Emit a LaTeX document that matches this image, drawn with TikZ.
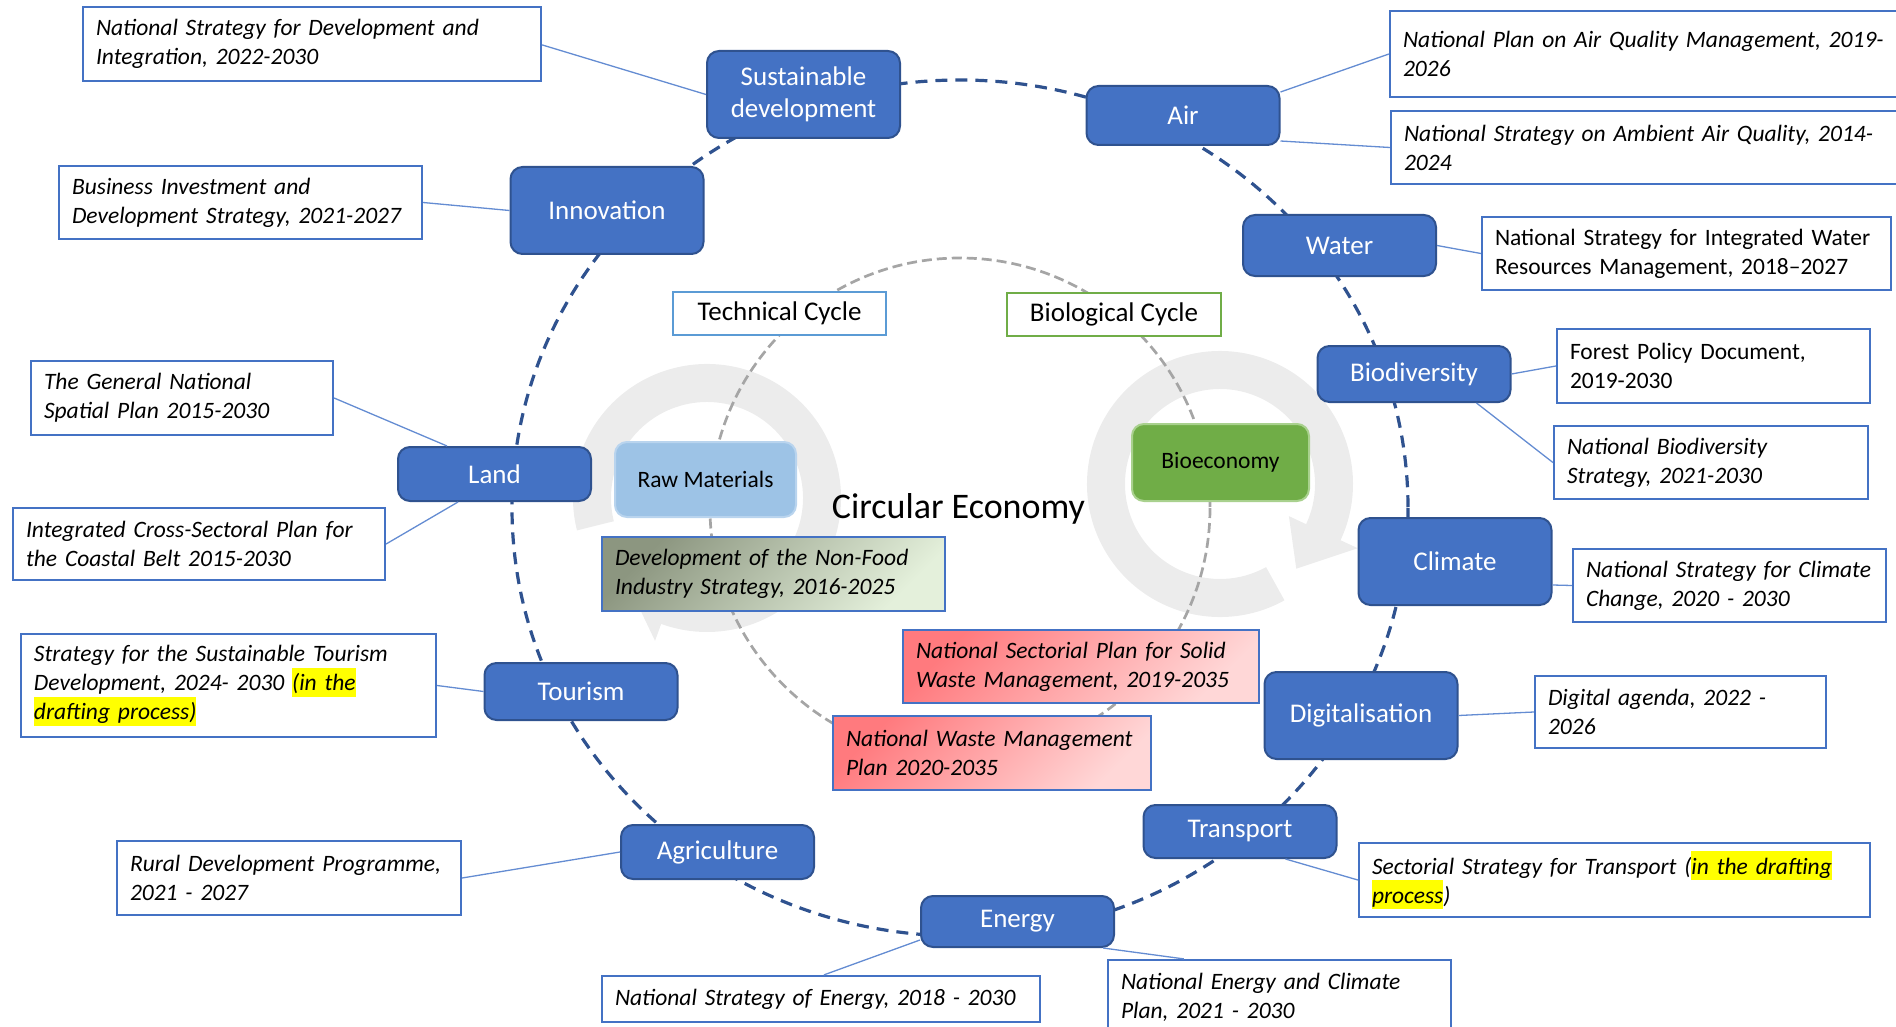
\documentclass[tikz,border=0pt]{standalone}
\usepackage{fontspec}
\setmainfont{Carlito}
\usetikzlibrary{calc}
\definecolor{bfill}{RGB}{68,114,196}
\definecolor{bdark}{RGB}{47,82,143}
\definecolor{connc}{RGB}{100,140,210}
\definecolor{ringc}{RGB}{236,236,236}
\definecolor{gdashc}{RGB}{165,165,165}
\definecolor{tcblue}{RGB}{91,155,213}
\definecolor{bgreen}{RGB}{112,173,71}
\definecolor{lgreen}{RGB}{169,209,142}
\definecolor{rawfill}{RGB}{157,195,230}
\definecolor{rawedge}{RGB}{185,212,238}
\definecolor{devA}{RGB}{140,150,128}
\definecolor{devB}{RGB}{228,240,219}
\definecolor{redA}{RGB}{255,122,126}
\definecolor{redB}{RGB}{255,215,215}
\definecolor{hly}{RGB}{255,255,0}
\newcommand\hlite[1]{{\setlength{\fboxsep}{0pt}\colorbox{hly}{\rule[-6pt]{0pt}{29pt}#1}}}
\begin{document}
\begin{tikzpicture}[x=1pt,y=-1pt,
  bluebox/.style={draw=bdark, fill=bfill, line width=2pt, rounded corners=12pt,
    minimum width=193pt, text=white, font=\fontsize{27}{32}\selectfont,
    align=center, inner sep=0pt},
  docbox/.style={draw=bfill, fill=white, line width=2.2pt,
    font=\fontsize{23.5}{29}\selectfont\itshape, align=left,
    inner xsep=13pt, inner ysep=0pt,
    execute at begin node={\hyphenpenalty=10000\exhyphenpenalty=10000}},
  docup/.style={docbox, font=\fontsize{23.5}{29}\selectfont},
  conn/.style={draw=connc, line width=1.3pt},
  cyclebox/.style={fill=white, line width=2pt, minimum width=213pt,
    minimum height=43pt, inner sep=0pt, font=\fontsize{27}{32}\selectfont},
  ringarrow/.style={fill=ringc},
  gdash/.style={draw=gdashc, line width=2.7pt, dash pattern=on 10pt off 5pt},
  bdash/.style={draw=bdark, line width=3.2pt, dash pattern=on 12pt off 8pt}]
\useasboundingbox (0,0) rectangle (1896,1027);
\clip (0,0) rectangle (1896,1027);

% grey circular arrows
\fill[ringarrow] ($(707,498)+(-194:134)$) arc[start angle=-194, end angle=110, radius=134]
  -- ($(707,498)+(110:152)$) -- ($(707,498)+(135:115)$) -- ($(707,498)+(110:78)$)
  -- ($(707,498)+(110:96)$) arc[start angle=110, end angle=-194, radius=96] -- cycle;
\fill[ringarrow] ($(1220,484)+(61:133)$) arc[start angle=61, end angle=385, radius=133]
  -- ($(1220,484)+(385:152)$) -- ($(1220,484)+(408:114)$) -- ($(1220,484)+(385:76)$)
  -- ($(1220,484)+(385:95)$) arc[start angle=385, end angle=61, radius=95] -- cycle;

% cycles
\draw[gdash] (960,508) circle[radius=250];
\draw[bdash] (960,508) ellipse[x radius=448, y radius=428];

% blue theme nodes
\node[bluebox, minimum height=87pt] (sd) at (803.5,94.5) {Sustainable\\development};
\node[bluebox, minimum height=59pt] (air) at (1183,115.5) {Air};
\node[bluebox, minimum height=87pt] (innov) at (607,210.5) {Innovation};
\node[bluebox, minimum height=61pt] (water) at (1339.5,245.5) {Water};
\node[bluebox, minimum height=56pt] (biodiv) at (1414,374) {Biodiversity};
\node[bluebox, minimum height=54pt] (land) at (494.5,474) {Land};
\node[bluebox, minimum height=87pt] (climate) at (1455,561.5) {Climate};
\node[bluebox, minimum height=57pt] (tourism) at (581,691.5) {Tourism};
\node[bluebox, minimum height=87pt] (digit) at (1361,715.5) {Digitalisation};
\node[bluebox, minimum height=53pt] (transport) at (1240,831.5) {Transport};
\node[bluebox, minimum height=54pt] (agri) at (717.5,852) {Agriculture};
\node[bluebox, minimum height=51pt] (energy) at (1017.5,921.5) {Energy};

% documents
\node[docbox, text width=432pt, minimum height=74pt] (d1) at (312,44)
  {National Strategy for Development and\\Integration, 2022-2030};
\node[docbox, text width=337pt, minimum height=73pt] (d2) at (240.5,202.5)
  {Business Investment and\\Development Strategy, 2021-2027};
\node[docbox, text width=276pt, minimum height=74pt] (d3) at (182,398)
  {The General National\\Spatial Plan 2015-2030};
\node[docbox, text width=346pt, minimum height=72pt] (d4) at (199,544)
  {Integrated Cross-Sectoral Plan for\\the Coastal Belt 2015-2030};
\node[docbox, text width=389pt, minimum height=103pt] (d5) at (228.5,685.5)
  {Strategy for the Sustainable Tourism\\Development, 2024- 2030 \hlite{(in the}\\\hlite{drafting process)}};
\node[docbox, text width=318pt, minimum height=74pt] (d6) at (289,878)
  {Rural Development Programme,\\2021 - 2027};
\node[docbox, text width=412pt, minimum height=46pt] (d7) at (821,999)
  {National Strategy of Energy, 2018 - 2030};
\node[docbox, text width=317pt, minimum height=74pt] (d8) at (1279.5,997)
  {National Energy and Climate\\Plan, 2021 - 2030};
\node[docbox, text width=485pt, minimum height=74pt] (d9) at (1614.5,880)
  {Sectorial Strategy for Transport (\hlite{in the drafting}\\\hlite{process})};
\node[docbox, text width=265pt, minimum height=72pt] (d10) at (1680.5,712)
  {Digital agenda, 2022 -\\2026};
\node[docbox, text width=287pt, minimum height=73pt] (d11) at (1729.5,585.5)
  {National Strategy for Climate\\Change, 2020 - 2030};
\node[docbox, text width=288pt, minimum height=73pt] (d12) at (1711,462.5)
  {National Biodiversity\\Strategy, 2021-2030};
\node[docup, text width=287pt, minimum height=74pt] (d13) at (1713.5,366)
  {Forest Policy Document,\\2019-2030};
\node[docup, text width=383pt, minimum height=73pt] (d14) at (1686.5,253.5)
  {National Strategy for Integrated Water\\Resources Management, 2018--2027};
\node[docbox, text width=493pt, minimum height=73pt] (d15) at (1650.5,147.5)
  {National Strategy on Ambient Air Quality, 2014-\\2024};
\node[docbox, text width=494pt, minimum height=86pt] (d16) at (1650,54)
  {National Plan on Air Quality Management, 2019-\\2026};

% centre
\node[cyclebox, draw=tcblue] (tc) at (779.5,313.5) {Technical Cycle};
\node[cyclebox, draw=bgreen, minimum width=214pt] (bc) at (1114,314.5) {Biological Cycle};
\node[fill=rawfill, draw=rawedge, line width=2pt, rounded corners=12pt,
  minimum width=181pt, minimum height=75pt, inner sep=0pt,
  font=\fontsize{23.5}{28}\selectfont] (raw) at (705.5,479.5) {Raw Materials};
\node[fill=bgreen, draw=lgreen, line width=2pt, rounded corners=12pt,
  minimum width=177pt, minimum height=77pt, inner sep=0pt,
  font=\fontsize{23.5}{28}\selectfont] (bio) at (1220.5,462.5) {Bioeconomy};
\node[font=\fontsize{36}{40}\selectfont, inner sep=0pt] (ce) at (958.5,509) {Circular Economy};
\node[docbox, text width=317pt, minimum height=74pt,
  top color=devA, bottom color=devB, shading angle=45] (dev) at (773.5,574)
  {Development of the Non-Food\\Industry Strategy, 2016-2025};
\node[docbox, text width=330pt, minimum height=73pt,
  top color=redA, bottom color=redB, shading angle=45] (nsp) at (1081,666.5)
  {National Sectorial Plan for Solid\\Waste Management, 2019-2035};
\node[docbox, text width=292pt, minimum height=74pt,
  top color=redA, bottom color=redB, shading angle=45] (nwm) at (992,753)
  {National Waste Management\\Plan 2020-2035};

% connectors
\draw[conn] ($(d1.north east)+(0,39)$) -- (sd.west);
\draw[conn] (d2.east) -- (innov.west);
\draw[conn] (d3.east) -- ($(land.north west)+(50,0)$);
\draw[conn] ($(land.south west)+(61,0)$) -- (d4.east);
\draw[conn] (d5.east) -- (tourism.west);
\draw[conn] (d6.east) -- (agri.west);
\draw[conn] ($(energy.south west)+(0,-8)$) -- ($(d7.north west)+(223,0)$);
\draw[conn] ($(energy.south east)+(-12,0)$) -- ($(d8.north west)+(77,0)$);
\draw[conn] ($(transport.south west)+(143,0)$) -- (d9.west);
\draw[conn] (digit.east) -- (d10.west);
\draw[conn] ($(climate.south east)+(0,-21)$) -- (d11.west);
\draw[conn] (biodiv.east) -- (d13.west);
\draw[conn] ($(biodiv.south west)+(160,0)$) -- (d12.west);
\draw[conn] (water.east) -- (d14.west);
\draw[conn] ($(air.north east)+(0,7)$) -- (d16.west);
\draw[conn] ($(air.south east)+(0,-5)$) -- (d15.west);
\end{tikzpicture}
\end{document}
